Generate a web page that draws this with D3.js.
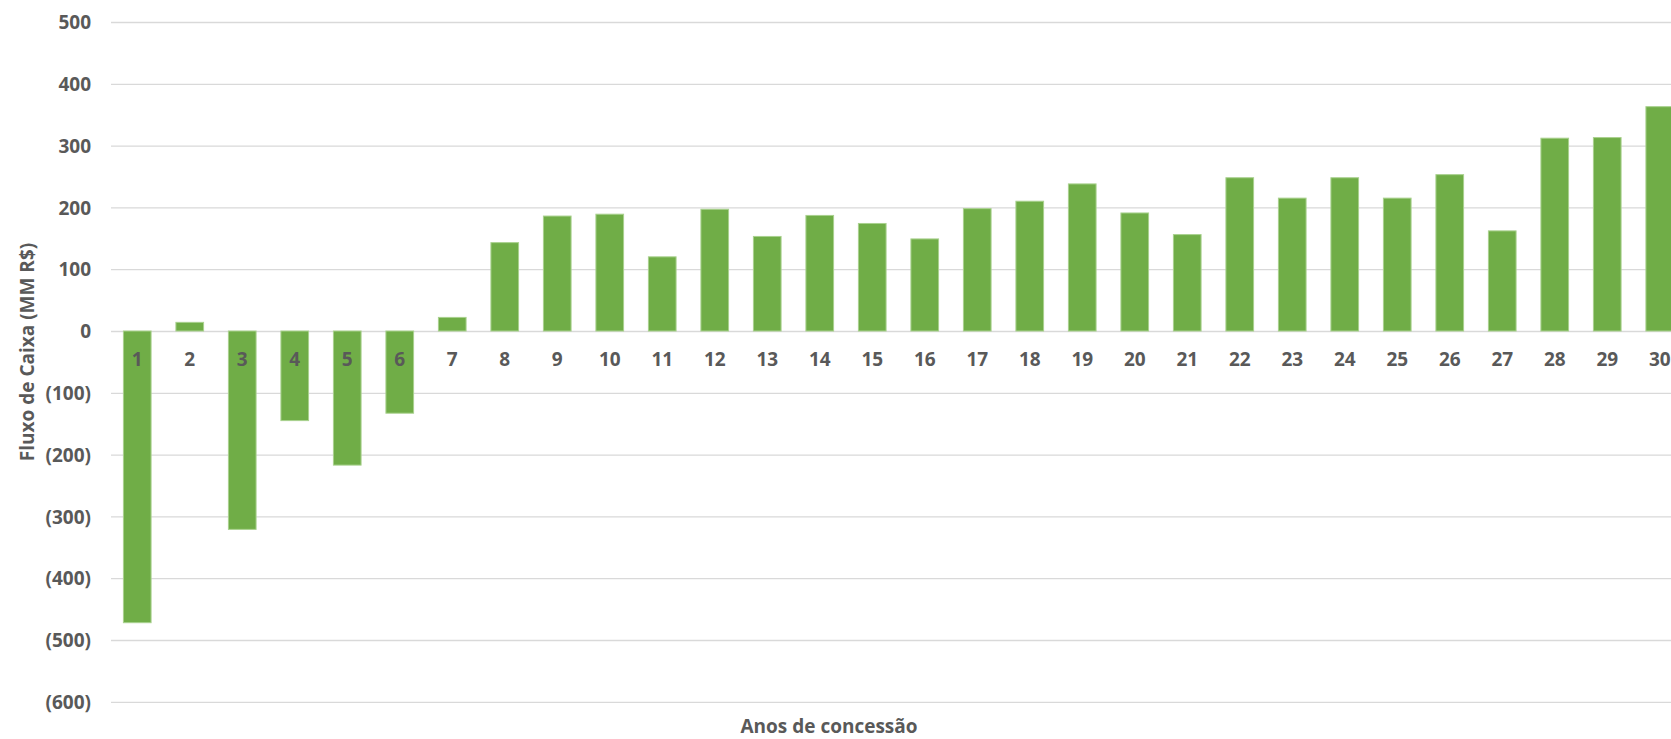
<!DOCTYPE html>
<html>
<head>
<meta charset="utf-8">
<script src="https://cdn.jsdelivr.net/npm/d3@7"></script>
<style>
  body { margin: 0; background: #fff; overflow: hidden; }
  text { font-family: "Open Sans", sans-serif; font-weight: 700; fill: #595959; }
</style>
</head>
<body>
<script>
// Dados (MM R$) por ano de concessão
const anos = d3.range(1, 31).map(String);
const fluxo = [-472, 14, -321, -145, -217, -133, 22, 143, 186, 189,
               120, 197, 153, 187, 174, 149, 198, 210, 238, 191,
               156, 248, 215, 248, 215, 253, 162, 312, 313, 363];
const yTicks = [500, 400, 300, 200, 100, 0, -100, -200, -300, -400, -500, -600];

const WIDTH = 1671;
const HEIGHT = 739;

const svg = d3.select("body").append("svg")
  .attr("width", WIDTH)
  .attr("height", HEIGHT);

// escalas
const x = d3.scaleBand()
  .domain(anos)
  .range([111, 1686])
  .paddingInner(0.473)
  .paddingOuter(0.2365);

const y = d3.scaleLinear()
  .domain([-600, 500])
  .range([701.8, 22]);

const fmt = v => v < 0 ? "(" + Math.abs(v) + ")" : String(v);

// linhas de grade + rótulos do eixo y
const yAxis = d3.axisLeft(y)
  .tickValues(yTicks)
  .tickSize(-(1686 - 111))
  .tickPadding(20)
  .tickFormat(fmt);

const gy = svg.append("g")
  .attr("transform", "translate(111,0)")
  .call(yAxis);
gy.select(".domain").remove();
gy.selectAll(".tick line").attr("stroke", "#d9d9d9").attr("stroke-width", 1.3);
gy.selectAll(".tick text")
  .attr("font-size", 19)
  .attr("dy", "0.35em")
  .style("font-family", "'Open Sans', sans-serif")
  .style("font-weight", 700)
  .attr("fill", "#595959");

// barras
svg.append("g")
  .selectAll("rect")
  .data(fluxo)
  .join("rect")
  .attr("x", (d, i) => x(anos[i]))
  .attr("y", d => y(Math.max(0, d)))
  .attr("width", x.bandwidth())
  .attr("height", d => Math.abs(y(d) - y(0)))
  .attr("fill", "#70ad47")
  .attr("stroke", "#a9d18e")
  .attr("stroke-width", 1);

// rótulos do eixo x (por cima das barras)
const xAxis = d3.axisBottom(x).tickSize(0).tickPadding(0);
const gx = svg.append("g")
  .attr("transform", "translate(0," + y(0) + ")")
  .call(xAxis);
gx.select(".domain").remove();
gx.selectAll(".tick text")
  .attr("y", 28)
  .attr("dy", "0.35em")
  .attr("font-size", 19)
  .style("font-family", "'Open Sans', sans-serif")
  .style("font-weight", 700)
  .attr("fill", "#595959");

// títulos
svg.append("text")
  .attr("x", 829)
  .attr("y", 733)
  .attr("text-anchor", "middle")
  .attr("font-size", 19)
  .text("Anos de concessão");

svg.append("text")
  .attr("transform", "translate(27,352) rotate(-90)")
  .attr("text-anchor", "middle")
  .attr("dy", "0.35em")
  .attr("font-size", 19)
  .text("Fluxo de Caixa (MM R$)");
</script>
</body>
</html>
